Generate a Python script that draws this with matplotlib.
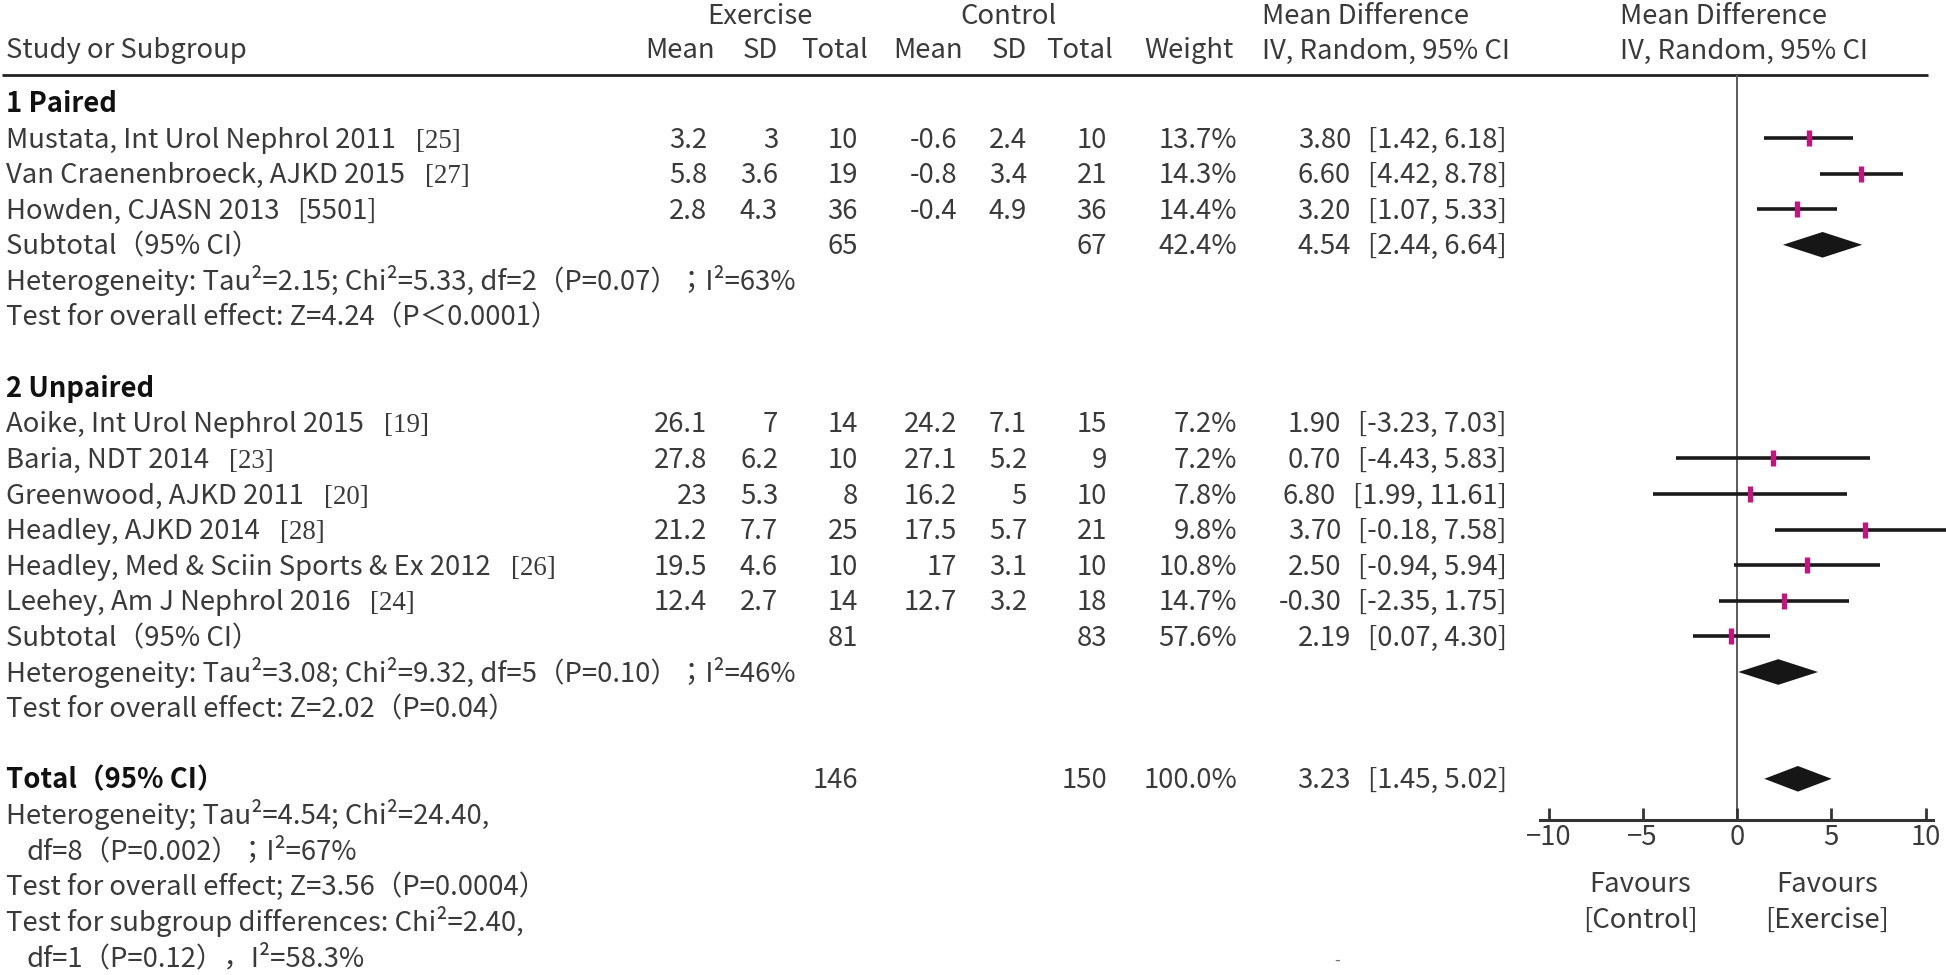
import matplotlib
matplotlib.use('Agg')
import matplotlib.pyplot as plt

plt.rcParams['font.family'] = ['Noto Sans CJK JP', 'DejaVu Sans']

# ---------------- data ----------------
study_names = ["Mustata, Int Urol Nephrol 2011", "Van Craenenbroeck, AJKD 2015", "Howden, CJASN 2013",
               "Aoike, Int Urol Nephrol 2015", "Baria, NDT 2014", "Greenwood, AJKD 2011",
               "Headley, AJKD 2014", "Headley, Med & Sciin Sports & Ex 2012", "Leehey, Am J Nephrol 2016"]
study_refs = ["[25]", "[27]", "[5501]", "[19]", "[23]", "[20]", "[28]", "[26]", "[24]"]
study_group = [0, 0, 0, 1, 1, 1, 1, 1, 1]
ex_mean = [3.2, 5.8, 2.8, 26.1, 27.8, 23, 21.2, 19.5, 12.4]
ex_sd = [3, 3.6, 4.3, 7, 6.2, 5.3, 7.7, 4.6, 2.7]
ex_n = [10, 19, 36, 14, 10, 8, 25, 10, 14]
ct_mean = [-0.6, -0.8, -0.4, 24.2, 27.1, 16.2, 17.5, 17, 12.7]
ct_sd = [2.4, 3.4, 4.9, 7.1, 5.2, 5, 5.7, 3.1, 3.2]
ct_n = [10, 21, 36, 15, 9, 10, 21, 10, 18]
weight = [13.7, 14.3, 14.4, 7.2, 7.2, 7.8, 9.8, 10.8, 14.7]
md = [3.80, 6.60, 3.20, 1.90, 0.70, 6.80, 3.70, 2.50, -0.30]
md_lo = [1.42, 4.42, 1.07, -3.23, -4.43, 1.99, -0.18, -0.94, -2.35]
md_hi = [6.18, 8.78, 5.33, 7.03, 5.83, 11.61, 7.58, 5.94, 1.75]

group_titles = ["1 Paired", "2 Unpaired"]
sub_ex_n = [65, 81]
sub_ct_n = [67, 83]
sub_weight = [42.4, 57.6]
sub_md = [4.54, 2.19]
sub_lo = [2.44, 0.07]
sub_hi = [6.64, 4.30]
group_het = ["Heterogeneity: Tau²=2.15; Chi²=5.33, df=2（P=0.07）；I²=63%",
             "Heterogeneity: Tau²=3.08; Chi²=9.32, df=5（P=0.10）；I²=46%"]
group_test = ["Test for overall effect: Z=4.24（P＜0.0001）",
              "Test for overall effect: Z=2.02（P=0.04）"]

tot_ex_n, tot_ct_n, tot_weight = 146, 150, 100.0
tot_md, tot_lo, tot_hi = 3.23, 1.45, 5.02
total_notes = ["Heterogeneity; Tau²=4.54; Chi²=24.40,",
               "df=8（P=0.002）；I²=67%",
               "Test for overall effect; Z=3.56（P=0.0004）",
               "Test for subgroup differences: Chi²=2.40,",
               "df=1（P=0.12），I²=58.3%"]
total_note_indent = [False, True, False, False, True]

x_ticks = [-10, -5, 0, 5, 10]
favours_left = ["Favours", "[Control]"]
favours_right = ["Favours", "[Exercise]"]

# ---------------- layout ----------------
W, H = 1946, 975
Y0, DY = 138, 35.6          # pixel y of first study row and row pitch
def ypx(r):
    return Y0 + DY * r

TXT = '#3a3a3a'
DARK = '#111111'
FS = 19.8
BASE = 9.5  # baseline offset below row centre (px)

fig = plt.figure(figsize=(W / 100, H / 100), dpi=100)
ax = fig.add_axes([0, 0, 1, 1])
ax.set_xlim(0, W)
ax.set_ylim(H, 0)
ax.axis('off')

def put_px(x, y, s, ha='left', color=TXT, weight='normal', fs=FS, family=None):
    kw = {}
    if family is not None:
        kw['family'] = family
    return ax.text(x, y + BASE, s, ha=ha, va='baseline', color=color,
                   fontsize=fs, fontweight=weight, **kw)

def put(x, r, s, **kw):
    return put_px(x, ypx(r), s, **kw)

# column right edges
X_NAME = 6
C_EXM, C_EXS, C_EXN = 707, 778, 858
C_CTM, C_CTS, C_CTN = 957, 1027, 1107
C_W, C_CI = 1237, 1507
X_MDH, X_FH = 1262, 1620

# headers
put_px(760, 14, "Exercise", ha='center')
put_px(1008, 14, "Control", ha='center')
put_px(X_MDH, 14, "Mean Difference")
put_px(X_FH, 14, "Mean Difference")
hy = 49
put_px(X_NAME, hy, "Study or Subgroup")
put_px(715, hy, "Mean", ha='right')
put_px(778, hy, "SD", ha='right')
put_px(868, hy, "Total", ha='right')
put_px(963, hy, "Mean", ha='right')
put_px(1027, hy, "SD", ha='right')
put_px(1113, hy, "Total", ha='right')
put_px(1234, hy, "Weight", ha='right')
put_px(X_MDH, hy, "IV, Random, 95% CI")
put_px(X_FH, hy, "IV, Random, 95% CI")
ax.plot([2, 1928], [75, 75], color='#222222', lw=2.0, solid_capstyle='butt')

md_pairs = []   # (ci_text, row, estimate string)

def md_cell(r, est, lo, hi):
    t = put(C_CI, r, f"[{lo:.2f}, {hi:.2f}]", ha='right')
    md_pairs.append((t, r, f"{est:.2f}"))

# rows
group_start = [-1, 7]
name_texts = []
mark_rows = []
sub_mark_rows = []
for g in range(2):
    r0 = group_start[g]
    put(X_NAME, r0, group_titles[g], color=DARK, weight='bold')
    idx = [i for i in range(len(study_names)) if study_group[i] == g]
    for k, i in enumerate(idx):
        r = r0 + 1 + k
        # in the reference the unpaired section's marks sit one row lower than their labels
        mark_rows.append(r + g)
        t = put(X_NAME, r, study_names[i])
        name_texts.append((t, r, study_refs[i]))
        put(C_EXM, r, f"{ex_mean[i]:g}", ha='right')
        put(C_EXS, r, f"{ex_sd[i]:g}", ha='right')
        put(C_EXN, r, f"{ex_n[i]}", ha='right')
        put(C_CTM, r, f"{ct_mean[i]:g}", ha='right')
        put(C_CTS, r, f"{ct_sd[i]:g}", ha='right')
        put(C_CTN, r, f"{ct_n[i]}", ha='right')
        put(C_W, r, f"{weight[i]:.1f}%", ha='right')
        md_cell(r, md[i], md_lo[i], md_hi[i])
    rs = r0 + 1 + len(idx)
    sub_mark_rows.append(rs + g)
    put(X_NAME, rs, "Subtotal（95% CI）")
    put(C_EXN, rs, f"{sub_ex_n[g]}", ha='right')
    put(C_CTN, rs, f"{sub_ct_n[g]}", ha='right')
    put(C_W, rs, f"{sub_weight[g]:.1f}%", ha='right')
    md_cell(rs, sub_md[g], sub_lo[g], sub_hi[g])
    put(X_NAME, rs + 1, group_het[g])
    put(X_NAME, rs + 2, group_test[g])

R_TOT = 18
put(X_NAME, R_TOT, "Total（95% CI）", color=DARK, weight='bold')
put(C_EXN, R_TOT, f"{tot_ex_n}", ha='right')
put(C_CTN, R_TOT, f"{tot_ct_n}", ha='right')
put(C_W, R_TOT, f"{tot_weight:.1f}%", ha='right')
md_cell(R_TOT, tot_md, tot_lo, tot_hi)
for k, s in enumerate(total_notes):
    put(26 if total_note_indent[k] else X_NAME, R_TOT + 1 + k, s)

# stray dash near the bottom of the reference
put_px(1334, 955, "-", fs=FS * 0.6, color='#777777')

# reference numbers after study names, estimates before CIs
fig.canvas.draw()
rend = fig.canvas.get_renderer()
for t, r, ref in name_texts:
    bb = t.get_window_extent(renderer=rend)
    if ref == "[5501]":
        put(bb.x1 + 18, r, ref)
    else:
        put(bb.x1 + 20, r, ref, family=['Liberation Serif'], fs=FS * 0.98)
for t, r, est in md_pairs:
    bb = t.get_window_extent(renderer=rend)
    put(bb.x0 - 17, r, est, ha='right')

# ---------------- forest plot ----------------
PX0, PX_PER = 1737, 18.85
AX_L, AX_R, AX_T, AX_B = 1540, 1933, 75, 820
fax = fig.add_axes([AX_L / W, 1 - AX_B / H, (AX_R - AX_L) / W, (AX_B - AX_T) / H])
fax.set_xlim((AX_L - PX0) / PX_PER, (AX_R - PX0) / PX_PER)
fax.set_ylim((AX_B - Y0) / DY, (AX_T - Y0) / DY)
fax.patch.set_alpha(0)
for s in ['top', 'left', 'right']:
    fax.spines[s].set_visible(False)
fax.spines['bottom'].set_linewidth(2.2)
fax.spines['bottom'].set_color('#333333')
fax.set_yticks([])
fax.set_xticks(x_ticks)
fax.set_xticklabels([f"{v}".replace('-', '−') for v in x_ticks])
fax.tick_params(axis='x', direction='in', length=9, width=2.0, color='#333333',
                labelsize=FS, labelcolor=TXT, pad=3)
fax.axvline(0, color='#5a5a5a', lw=1.4, zorder=1)

MAG = '#c8127e'
for i in range(len(md)):
    r = mark_rows[i]
    fax.plot([md_lo[i], md_hi[i]], [r, r], color='#1a1a1a', lw=2.6,
             solid_capstyle='butt', zorder=3, clip_on=False)
    fax.plot([md[i]], [r], marker='|', markersize=11.5, markeredgewidth=3.8,
             color=MAG, zorder=4, clip_on=False)

DH = 0.36
def diamond(est, lo, hi, r):
    fax.fill([lo, est, hi, est], [r, r - DH, r, r + DH], color='#161616', lw=0, zorder=4)

for g in range(2):
    diamond(sub_md[g], sub_lo[g], sub_hi[g], sub_mark_rows[g])
diamond(tot_md, tot_lo, tot_hi, R_TOT)

# favours labels
for k in range(2):
    put_px(1640, 883 + 35 * k, favours_left[k], ha='center')
    put_px(1827, 883 + 35 * k, favours_right[k], ha='center')

fig.savefig('out.png', dpi=100)
